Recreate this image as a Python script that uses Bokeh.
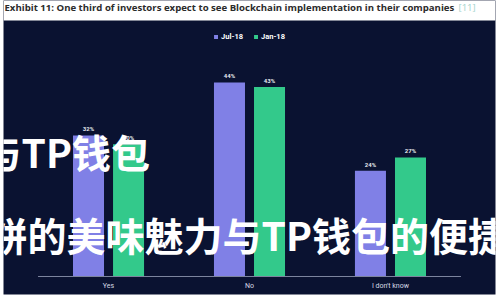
from bokeh.plotting import figure
from bokeh.models import FactorRange, Range1d, Label, Legend, LegendItem, ColumnDataSource, BoxAnnotation
from bokeh.transform import dodge
from bokeh.core.properties import value
from bokeh.embed import file_html
from bokeh.resources import INLINE

# ---- data ----
categories = ["Yes", "No", "I don't know"]
jul_18 = [32, 44, 24]
jan_18 = [30, 43, 27]
series_names = ["Jul-18", "Jan-18"]
title_text = "Exhibit 11: One third of investors expect to see Blockchain implementation in their companies"
title_ref = "[11]"
overlay_line1 = "与TP钱包"
overlay_line2 = "饼的美味魅力与TP钱包的便捷"

NAVY = "#0a1231"
PURPLE = "#8080e6"
GREEN = "#33c98b"
FONT = "Roboto"

src = ColumnDataSource(dict(
    cat=categories,
    jul=jul_18,
    jan=jan_18,
    jul_lbl=[f"{v}%" for v in jul_18],
    jan_lbl=[f"{v}%" for v in jan_18],
    zero=[0] * len(categories),
    lab_y=[-2.05] * len(categories),
))

p = figure(width=500, height=300,
           x_range=FactorRange(*categories, range_padding=0.245, range_padding_units="absolute"),
           y_range=Range1d(-4.08, 62.59),
           output_backend="svg", toolbar_location=None,
           x_axis_location=None, y_axis_location=None,
           min_border_left=3, min_border_right=5, min_border_top=0, min_border_bottom=6)
p.background_fill_color = NAVY
p.border_fill_color = "white"
p.outline_line_color = None
p.grid.visible = False

r1 = p.vbar(x=dodge("cat", -0.142, range=p.x_range), top="jul", width=0.22,
            source=src, fill_color=PURPLE, line_color=None)
r2 = p.vbar(x=dodge("cat", 0.142, range=p.x_range), top="jan", width=0.22,
            source=src, fill_color=GREEN, line_color=None)

# value labels
for col, lbl, off in (("jul", "jul_lbl", -0.142), ("jan", "jan_lbl", 0.142)):
    p.text(x=dodge("cat", off, range=p.x_range), y=col, text=lbl, source=src,
           text_align="center", text_baseline="bottom", y_offset=-3,
           text_font=value(FONT), text_font_size="6px", text_font_style="bold",
           text_color="#e6e8f0")

# baseline
p.segment(x0=dodge("cat", -0.5, range=p.x_range), x1=dodge("cat", 0.5, range=p.x_range),
          y0="zero", y1="zero", source=src, line_color="#7c849e", line_width=1)

# category labels
p.text(x="cat", y="lab_y", text="cat", source=src, text_align="center",
       text_baseline="middle", text_font=value(FONT), text_font_size="7px",
       text_color="#d8dbe6")

legend = Legend(items=[LegendItem(label=series_names[0], renderers=[r1]),
                       LegendItem(label=series_names[1], renderers=[r2])],
                orientation="horizontal", location="top_center",
                background_fill_alpha=0, border_line_alpha=0,
                label_text_color="white", label_text_font=FONT,
                label_text_font_size="7.5px", label_text_font_style="bold",
                glyph_width=5, glyph_height=5, label_height=10, label_width=10,
                spacing=10, margin=31, padding=0, label_standoff=3)
p.add_layout(legend)

# white title strip above the dark panel
p.add_layout(BoxAnnotation(bottom=58.05, fill_color="white", fill_alpha=1, line_color=None))

p.add_layout(Label(x=1, y=287, x_units="screen", y_units="screen", text=title_text,
                   text_font="Open Sans", text_font_size="9.6px", text_font_style="bold",
                   text_color="#2b2b2b", text_baseline="middle"))
p.add_layout(Label(x=455, y=287, x_units="screen", y_units="screen", text=title_ref,
                   text_font="Open Sans", text_font_size="9.6px", text_color="#9fd3cc",
                   text_baseline="middle"))

for txt, x, y in ((overlay_line1, -21, 144), (overlay_line2, -15, 61)):
    p.add_layout(Label(x=x, y=y, x_units="screen", y_units="screen", text=txt,
                       text_font="Noto Sans CJK SC", text_font_size="39px",
                       text_font_style="bold", text_color="white",
                       text_baseline="middle"))

open("out.html", "w").write(file_html(p, INLINE))
